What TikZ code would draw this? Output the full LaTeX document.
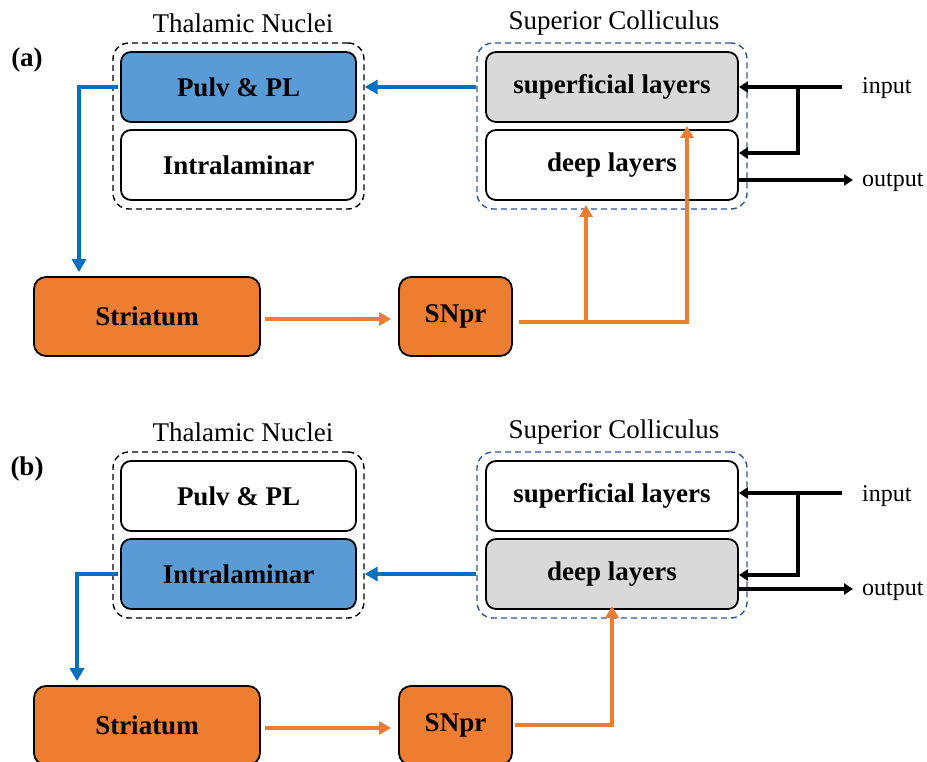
\documentclass[tikz,border=0pt]{standalone}
\usepackage{fontspec}
\setmainfont{Liberation Serif}
\usetikzlibrary{arrows.meta}
\definecolor{bfill}{HTML}{5B9BD5}
\definecolor{barrow}{HTML}{0070C0}
\definecolor{oran}{HTML}{ED7D31}
\definecolor{gfill}{HTML}{D9D9D9}
\definecolor{scdash}{HTML}{2F5597}
\tikzset{
  layer/.style={draw=black, line width=1.8pt, rounded corners=10pt, minimum width=235pt, minimum height=70pt, font=\fontsize{27}{30}\selectfont\bfseries, inner sep=0pt},
  sclayer/.style={layer, minimum width=252pt},
  orbox/.style={draw=black, line width=1.8pt, rounded corners=12pt, fill=oran, minimum height=79pt, font=\fontsize{27}{30}\selectfont\bfseries, inner sep=0pt},
  groupbox/.style={draw, dashed, dash pattern=on 6pt off 4pt, line width=1.4pt, rounded corners=16pt, inner sep=0pt, minimum height=166pt},
  title/.style={font=\fontsize{27}{30}\selectfont},
  io/.style={font=\fontsize{24}{28}\selectfont, anchor=west, inner sep=0pt},
  panel/.style={font=\fontsize{27}{30}\selectfont\bfseries, inner sep=0pt},
  bluearr/.style={draw=barrow, line width=4.5pt, -{Triangle[length=13pt,width=14pt]}},
  orarr/.style={draw=oran, line width=3.6pt, -{Triangle[length=12pt,width=13pt]}},
  blkarr/.style={draw=black, line width=3.2pt, -{Triangle[length=9pt,width=11pt]}},
}
\begin{document}
\begin{tikzpicture}[x=1pt,y=-1pt]
\useasboundingbox (0,0) rectangle (927,762);
\clip (0,0) rectangle (927,762);
% ================= panel (a) =================
\node[panel] (pa) at (27,60) {(a)};
\node[title] (tta) at (243,23) {Thalamic Nuclei};
\node[title] (sta) at (614,23) {Superior Colliculus};
\node[groupbox, draw=black, minimum width=251pt] (tha) at (238.5,126) {};
\node[groupbox, draw=scdash, minimum width=270pt] (sca) at (612,126) {};
\node[layer, fill=bfill] (pula) at (238.5,87) {Pulv \& PL};
\node[layer, fill=white] (inta) at (238.5,165) {Intralaminar};
\node[sclayer, fill=gfill] (supa) at (612,87) {superficial layers};
\node[sclayer, fill=white] (deepa) at (612,165) {deep layers};
\node[orbox, minimum width=226pt] (stra) at (147,316.5) {Striatum};
\node[orbox, minimum width=113pt] (snpa) at (455.5,316.5) {SNpr};
\coordinate (ina) at (842,87);
\coordinate (bra) at (798,87);
\coordinate (oua) at (853,180);
\coordinate (sna) at (519,322);
\coordinate (o1a) at (687,322);
\coordinate (o2a) at (586,322);
\node[io] (inla) at (862,88) {input};
\node[io] (oula) at (862,182) {output};
% orange
\draw[orarr, line join=miter] (sna) -- (o1a) -- (687,126);
\draw[orarr] (o2a) -- (586,205);
\draw[orarr] ([xshift=4pt]stra.east |- 0,319) -- ([xshift=-7pt]snpa.west |- 0,319);
% blue arrows
\draw[bluearr] (sca.west |- pula) -- (tha.east |- pula);
\draw[bluearr] ([xshift=-2pt]pula.west) -| ([xshift=-68pt,yshift=4pt]stra.north);
% black
\draw[blkarr] (ina) -- (supa.east);
\draw[blkarr] (bra) |- ([yshift=12pt]deepa.east);
\draw[blkarr] ([yshift=-15pt]deepa.east) -- (oua);
% ================= panel (b) =================
\begin{scope}[shift={(0,409)}]
\node[panel] (pb) at (27,60) {(b)};
\node[title] (ttb) at (243,23) {Thalamic Nuclei};
\node[title] (stb) at (614,23) {Superior Colliculus};
\node[groupbox, draw=black, minimum width=251pt] (thb) at (238.5,126) {};
\node[groupbox, draw=scdash, minimum width=270pt] (scb) at (612,126) {};
\node[layer, fill=white] (pulb) at (238.5,87) {Pulv \& PL};
\node[layer, fill=bfill] (intb) at (238.5,165) {Intralaminar};
\node[sclayer, fill=white] (supb) at (612,87) {superficial layers};
\node[sclayer, fill=gfill] (deepb) at (612,165) {deep layers};
\node[orbox, minimum width=226pt] (strb) at (147,316.5) {Striatum};
\node[orbox, minimum width=113pt] (snpb) at (455.5,316.5) {SNpr};
\coordinate (inb) at (842,84);
\coordinate (brb) at (798,84);
\coordinate (oub) at (853,180);
\coordinate (snb) at (515,316);
\node[io] (inlb) at (862,87) {input};
\node[io] (oulb) at (862,182) {output};
\draw[orarr, line join=miter] (snb) -| ([yshift=4pt]deepb.south);
\draw[orarr] ([xshift=4pt]strb.east |- 0,319) -- ([xshift=-7pt]snpb.west |- 0,319);
\draw[bluearr] (scb.west |- intb) -- (thb.east |- intb);
\draw[bluearr] ([xshift=-2pt]intb.west) -| ([xshift=-70pt,yshift=4pt]strb.north);
\draw[blkarr] (inb) -- (supb.east |- inb);
\draw[blkarr] (brb) |- ([yshift=-1pt]deepb.east);
\draw[blkarr] ([yshift=-15pt]deepb.east) -- (oub);
\end{scope}
\end{tikzpicture}
\end{document}
